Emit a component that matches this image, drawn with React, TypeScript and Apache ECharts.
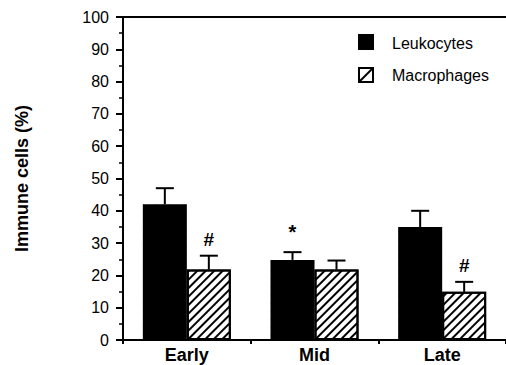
import React, { useEffect, useRef } from "react";
import * as echarts from "echarts";

const categories = ["Early", "Mid", "Late"];
const seriesNames = ["Leukocytes", "Macrophages"];
const leukocytes = [42, 24.8, 35];
const leukocytesErr = [5, 2.4, 5];
const macrophages = [21.8, 21.8, 14.9];
const macrophagesErr = [4.3, 2.8, 3.1];
const leukocyteMarks = ["", "*", ""];
const macrophageMarks = ["#", "", "#"];
const yTicks = [0, 10, 20, 30, 40, 50, 60, 70, 80, 90, 100];
const yAxisTitle = "Immune cells (%)";

const FONT = "'Liberation Sans', Arial, Helvetica, sans-serif";
const BAR_W = 44;

function errSeries(values: number[], errs: number[], marks: string[], offset: number) {
  return {
    type: "custom",
    xAxisIndex: 0,
    yAxisIndex: 0,
    z: 5,
    data: values.map((v, i) => [i, v, errs[i]]),
    encode: { x: 0, y: 1 },
    renderItem: (params: any, api: any) => {
      const idx = api.value(0);
      const v = api.value(1);
      const e = api.value(2);
      const base = api.coord([idx, v]);
      const top = api.coord([idx, v + e]);
      const x = base[0] + offset;
      const children: any[] = [
        { type: "line", shape: { x1: x, y1: base[1], x2: x, y2: top[1] }, style: { stroke: "#000", lineWidth: 2 } },
        { type: "line", shape: { x1: x - 9, y1: top[1], x2: x + 9, y2: top[1] }, style: { stroke: "#000", lineWidth: 2 } },
      ];
      const m = marks[params.dataIndex];
      if (m) {
        children.push({
          type: "text",
          style: {
            text: m,
            x: x,
            y: top[1] - (m === "*" ? 10 : 7),
            align: "center",
            verticalAlign: "bottom",
            font: `bold ${m === "*" ? 20 : 19}px ${FONT}`,
            fill: "#000",
          },
        });
      }
      return { type: "group", children };
    },
  };
}

export default function App() {
  const ref = useRef<HTMLDivElement>(null);
  useEffect(() => {
    const chart = echarts.init(ref.current!, undefined, { renderer: "svg" });
    chart.setOption({
      animation: false,
      aria: { enabled: true, decal: { show: true } },
      grid: { left: 123, right: -1, top: 17, bottom: 25 },
      xAxis: [
        {
          type: "category",
          data: categories,
          axisLine: { lineStyle: { color: "#000", width: 2 } },
          axisTick: { show: true, length: 4, inside: false, lineStyle: { color: "#000", width: 2 } },
          axisLabel: { color: "#000", fontFamily: FONT, fontWeight: "bold", fontSize: 18, margin: 6 },
        },
        {
          type: "category",
          position: "top",
          data: categories,
          axisLine: { lineStyle: { color: "#000", width: 2 } },
          axisTick: { show: false },
          axisLabel: { show: false },
        },
      ],
      yAxis: {
        type: "value",
        min: yTicks[0],
        max: yTicks[yTicks.length - 1],
        interval: 10,
        name: yAxisTitle,
        nameLocation: "middle",
        nameGap: 92,
        nameTextStyle: { color: "#000", fontFamily: FONT, fontWeight: "bold", fontSize: 18 },
        axisLine: { show: true, lineStyle: { color: "#000", width: 2 } },
        axisTick: { show: true, length: 7, lineStyle: { color: "#000", width: 2 } },
        minorTick: { show: true, splitNumber: 2, length: 4, lineStyle: { color: "#000", width: 1.5 } },
        splitLine: { show: false },
        axisLabel: { color: "#000", fontFamily: FONT, fontSize: 16, margin: 14 },
      },
      series: [
        {
          name: seriesNames[0],
          type: "bar",
          data: leukocytes,
          barWidth: BAR_W,
          barGap: "0%",
          itemStyle: { color: "#000", decal: "none" },
        },
        {
          name: seriesNames[1],
          type: "bar",
          data: macrophages,
          barWidth: BAR_W,
          barGap: "0%",
          itemStyle: {
            color: "#fff",
            borderColor: "#000",
            borderWidth: 2,
            decal: {
              symbol: "rect",
              symbolSize: 1,
              dashArrayX: [1, 0],
              dashArrayY: [1.6, 3.8],
              rotation: -Math.PI / 4,
              color: "#000",
            },
          },
        },
        errSeries(leukocytes, leukocytesErr, leukocyteMarks, -BAR_W / 2),
        errSeries(macrophages, macrophagesErr, macrophageMarks, BAR_W / 2),
      ],
      graphic: [
        { type: "rect", shape: { x: 358, y: 34, width: 16, height: 16 }, style: { fill: "#000" } },
        { type: "text", style: { text: seriesNames[0], x: 392, y: 43, verticalAlign: "middle", font: `16px ${FONT}`, fill: "#000" } },
        { type: "rect", shape: { x: 359, y: 68, width: 14, height: 14 }, style: { fill: "#fff", stroke: "#000", lineWidth: 2 } },
        { type: "line", shape: { x1: 359, y1: 82, x2: 373, y2: 68 }, style: { stroke: "#000", lineWidth: 2 } },
        { type: "text", style: { text: seriesNames[1], x: 392, y: 75, verticalAlign: "middle", font: `16px ${FONT}`, fill: "#000" } },
      ],
    });
    return () => chart.dispose();
  }, []);
  return <div ref={ref} style={{ width: 506, height: 365, position: "absolute", left: 0, top: 0 }} />;
}
